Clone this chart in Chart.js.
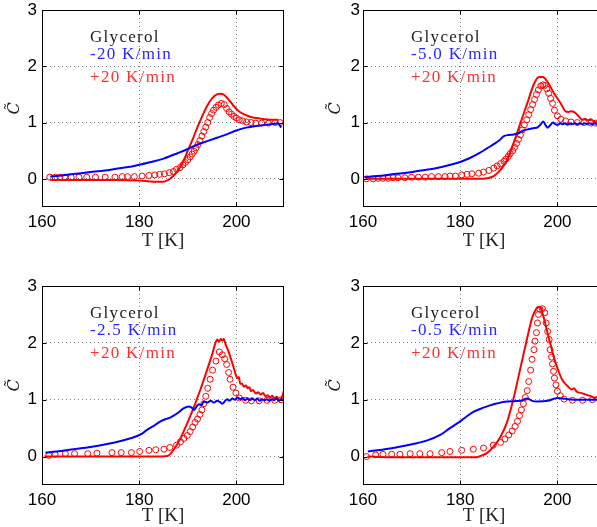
<!DOCTYPE html>
<html>
<head>
<meta charset="utf-8">
<script src="https://cdn.jsdelivr.net/npm/chart.js@4/dist/chart.umd.min.js"></script>
<style>
  html,body{margin:0;padding:0;background:#fff;}
  #fig{position:relative;width:597px;height:527px;overflow:hidden;background:#fff;}
  #fig canvas{position:absolute;}
</style>
</head>
<body>
<div id="fig">
  <canvas id="p1" width="300" height="260" style="left:0;top:0"></canvas>
  <canvas id="p2" width="300" height="260" style="left:321px;top:0"></canvas>
  <canvas id="p3" width="300" height="262" style="left:0;top:276px"></canvas>
  <canvas id="p4" width="300" height="262" style="left:321px;top:276px"></canvas>
</div>
<script>
/* ====== DATA ====== */
const xTicks = [160, 180, 200];
const yTicks = [0, 1, 2, 3];
const sampleName = "Glycerol";
const coolLabels = ["-20 K/min", "-5.0 K/min", "-2.5 K/min", "-0.5 K/min"];
const heatLabel = "+20 K/min";

// panel 1: cooling -20 K/min
const coolT1 = [161.7, 164, 167, 170, 173, 176, 179, 182, 185, 188, 190, 192, 194, 196, 198, 200, 202, 204, 206, 208, 208.6, 209.2];
const coolC1 = [0.04, 0.06, 0.09, 0.12, 0.15, 0.19, 0.23, 0.29, 0.36, 0.46, 0.53, 0.61, 0.67, 0.73, 0.79, 0.86, 0.91, 0.94, 0.96, 0.98, 0.99, 0.91];
const heatT1 = [161.7, 165, 170, 175, 180, 183, 185, 186, 187, 188, 189, 190, 191, 192, 193, 194, 195, 196, 196.8, 197.5, 198.5, 199.5, 200.5, 201.5, 203, 205, 207, 208.6];
const heatC1 = [-0.02, -0.02, -0.02, -0.02, -0.03, -0.05, -0.05, -0.02, 0.05, 0.15, 0.3, 0.5, 0.7, 0.92, 1.12, 1.3, 1.43, 1.5, 1.51, 1.49, 1.4, 1.29, 1.2, 1.15, 1.1, 1.07, 1.05, 1.05];
const circT1 = [161.6, 162.7, 163.7, 164.7, 166, 167.6, 169.2, 171, 173, 175, 176.5, 177.6, 179, 180.6, 182, 183.2, 184.2, 185.2, 186.2, 187, 187.7, 188.4, 189, 189.5, 190, 190.5, 190.9, 191.3, 191.7, 192.1, 192.5, 192.9, 193.3, 193.7, 194.1, 194.5, 194.9, 195.3, 195.8, 196.3, 196.9, 197.5, 198, 198.5, 199, 199.5, 200, 200.6, 201.3, 202.1, 203, 204, 205.2, 206.6, 208, 209];
const circC1 = [0.03, 0.03, 0.03, 0.03, 0.03, 0.03, 0.03, 0.03, 0.03, 0.03, 0.04, 0.04, 0.04, 0.05, 0.06, 0.07, 0.08, 0.09, 0.11, 0.13, 0.17, 0.2, 0.25, 0.29, 0.34, 0.39, 0.44, 0.49, 0.55, 0.61, 0.68, 0.76, 0.84, 0.92, 1.0, 1.09, 1.16, 1.22, 1.27, 1.31, 1.34, 1.32, 1.25, 1.19, 1.15, 1.11, 1.08, 1.05, 1.03, 1.01, 1.0, 0.99, 0.99, 0.99, 1.0, 1.0];

// panel 2: cooling -5.0 K/min
const coolT2 = [160.3, 163, 166, 169, 172, 175, 178, 180, 182, 184, 185.5, 187, 188, 189, 190, 191, 192, 193, 194, 195, 196, 196.6, 197.1, 197.6, 198, 198.6, 199.1, 199.6, 200.1, 200.6, 201.1, 201.6, 202.1, 202.6, 203.1, 203.6, 204.1, 204.6, 205.1, 205.6, 206.1, 206.6, 207.1, 207.6, 208.1, 208.6, 209.1, 209.6, 210];
const coolC2 = [0.03, 0.05, 0.08, 0.11, 0.15, 0.19, 0.25, 0.3, 0.37, 0.46, 0.54, 0.62, 0.68, 0.76, 0.78, 0.79, 0.81, 0.86, 0.88, 0.9, 0.92, 0.97, 1.02, 0.95, 0.91, 0.96, 1.0, 0.97, 0.96, 0.99, 0.97, 0.99, 0.96, 0.99, 0.97, 0.99, 0.97, 0.99, 0.97, 0.99, 0.97, 0.99, 0.97, 0.99, 0.97, 0.99, 0.97, 0.99, 0.98];
const heatT2 = [160.5, 165, 170, 175, 180, 184, 185.5, 186.9, 188.3, 189.7, 191, 192.4, 193.8, 195.2, 196.2, 197, 198, 199.3, 200.7, 201.7, 202.3, 202.8, 203.4, 204.1, 205.2, 205.7, 206.2, 206.8, 207.6, 208.3, 209, 209.8];
const heatC2 = [0.0, 0.0, 0.0, 0.0, 0.0, 0.0, 0.01, 0.05, 0.16, 0.34, 0.64, 0.99, 1.34, 1.69, 1.81, 1.81, 1.72, 1.52, 1.34, 1.2, 1.19, 1.2, 1.19, 1.14, 1.05, 1.07, 1.04, 1.06, 1.02, 1.0, 1.02, 1.0];
const circT2 = [160.7, 162.1, 163.1, 164.1, 165.2, 166.2, 167.2, 168.6, 170, 171.4, 172.8, 174.1, 175.5, 176.9, 177.9, 179, 180.3, 181.4, 182.4, 183.8, 184.8, 185.9, 186.9, 187.6, 188.3, 189, 189.4, 189.9, 190.3, 190.8, 191.2, 191.6, 192, 192.4, 192.8, 193.2, 193.7, 194.1, 194.5, 194.9, 195.3, 195.7, 196.1, 196.6, 197, 197.4, 197.8, 198.2, 198.6, 199, 199.4, 200, 200.7, 201.7, 202.8, 204.1, 205.5, 206.9, 207.9];
const circC2 = [0.0, 0.0, 0.01, 0.01, 0.01, 0.02, 0.02, 0.02, 0.03, 0.03, 0.03, 0.04, 0.04, 0.04, 0.05, 0.05, 0.07, 0.08, 0.09, 0.1, 0.12, 0.15, 0.19, 0.23, 0.27, 0.31, 0.35, 0.4, 0.45, 0.5, 0.56, 0.63, 0.7, 0.78, 0.87, 0.96, 1.05, 1.14, 1.23, 1.32, 1.41, 1.5, 1.58, 1.65, 1.67, 1.66, 1.6, 1.52, 1.43, 1.34, 1.22, 1.12, 1.06, 1.03, 1.01, 1.0, 1.0, 0.99, 0.99];

// panel 3: cooling -2.5 K/min
const coolT3 = [160.7, 163, 166.5, 170, 173.4, 176, 178.9, 180.5, 181.6, 183, 184.4, 185.5, 186.3, 187.1, 188, 189.2, 190.2, 190.8, 191.3, 191.8, 192.3, 192.8, 193.3, 194, 194.7, 195.4, 196, 196.6, 197.1, 197.6, 198.1, 198.6, 199.2, 199.7, 200.2, 200.8, 201.3, 201.8, 202.3, 202.8, 203.3, 203.8, 204.3, 204.8, 205.3, 205.8, 206.3, 206.8, 207.3, 207.8, 208.3, 208.8, 209.3, 209.8];
const coolC3 = [0.07, 0.09, 0.13, 0.17, 0.22, 0.27, 0.34, 0.4, 0.47, 0.54, 0.62, 0.66, 0.68, 0.72, 0.77, 0.85, 0.88, 0.86, 0.82, 0.88, 0.92, 0.9, 0.97, 0.95, 0.98, 0.95, 0.98, 0.96, 0.93, 0.97, 1.01, 0.98, 1.02, 1.0, 1.04, 1.01, 1.03, 0.99, 1.02, 0.99, 1.02, 0.99, 1.02, 0.98, 1.01, 0.99, 1.01, 0.98, 1.01, 0.99, 1.02, 0.98, 1.01, 0.99];
const heatT3 = [160.5, 165, 170, 175, 180, 183, 185.8, 187.1, 188.5, 189.9, 191.3, 192.6, 194, 195.1, 195.7, 196.1, 196.4, 196.8, 197.1, 197.4, 197.8, 198.5, 199.5, 200.2, 200.5, 200.8, 201.2, 201.5, 202, 202.3, 202.7, 203, 203.4, 204, 204.5, 205, 205.5, 206, 206.4, 207, 207.4, 207.8, 208.3, 208.8, 209.3, 209.8];
const heatC3 = [0.0, 0.0, 0.0, 0.0, 0.0, 0.0, 0.01, 0.12, 0.32, 0.59, 0.88, 1.18, 1.53, 1.82, 2.0, 2.06, 2.02, 2.07, 2.04, 2.07, 1.97, 1.82, 1.55, 1.38, 1.4, 1.28, 1.28, 1.23, 1.25, 1.2, 1.22, 1.15, 1.17, 1.11, 1.13, 1.09, 1.12, 1.06, 1.08, 1.04, 1.07, 1.02, 1.05, 1.0, 1.03, 1.16];
const circT3 = [161.4, 162.7, 164.8, 166.7, 169.4, 171.3, 174.4, 176.3, 178.4, 180.1, 182, 183.4, 185.1, 186.3, 187.7, 188.5, 189.2, 189.9, 190.5, 191, 191.5, 192, 192.5, 192.9, 193.3, 193.7, 194.1, 194.6, 195.1, 195.8, 196.5, 197.1, 197.6, 198, 198.4, 198.7, 199.3, 199.9, 200.6, 201.9, 203.1, 204.7, 206.3, 207.9, 209.2];
const circC3 = [0.02, 0.04, 0.05, 0.05, 0.05, 0.06, 0.07, 0.07, 0.07, 0.09, 0.11, 0.12, 0.13, 0.16, 0.2, 0.26, 0.32, 0.37, 0.44, 0.52, 0.6, 0.66, 0.74, 0.82, 0.93, 1.06, 1.2, 1.36, 1.52, 1.68, 1.84, 1.79, 1.72, 1.62, 1.48, 1.36, 1.22, 1.12, 1.03, 0.99, 0.98, 0.98, 0.99, 0.99, 1.0];

// panel 4: cooling -0.5 K/min
const coolT4 = [161, 163, 166.2, 168, 170.3, 173.1, 175.9, 177.9, 180, 182.8, 184.8, 186.9, 189.7, 192.4, 193.8, 194.8, 195.9, 198, 200, 202.1, 204.1, 207.6, 209.5];
const coolC4 = [0.09, 0.11, 0.15, 0.18, 0.22, 0.28, 0.38, 0.5, 0.62, 0.79, 0.86, 0.92, 0.97, 0.98, 1.02, 0.98, 0.97, 0.98, 1.03, 1.01, 1.0, 1.0, 1.0];
const heatT4 = [161, 165, 170, 175, 180, 183.4, 184.5, 185.5, 186.9, 188.3, 189.7, 191, 192.4, 193.8, 194.8, 195.5, 196, 196.5, 197.2, 197.9, 198.6, 199.3, 200, 201, 202.1, 203, 203.4, 204, 204.8, 205.5, 206.2, 207, 207.6, 208.3, 209, 209.6];
const heatC4 = [0.0, -0.01, -0.01, -0.01, -0.01, -0.01, 0.02, 0.06, 0.18, 0.35, 0.62, 1.03, 1.56, 2.09, 2.44, 2.58, 2.63, 2.62, 2.44, 2.2, 1.97, 1.74, 1.56, 1.35, 1.24, 1.18, 1.2, 1.14, 1.12, 1.1, 1.08, 1.06, 1.03, 1.05, 0.98, 1.08];
const circT4 = [160.7, 162.6, 164.1, 165.9, 167.6, 169.7, 171.7, 173.8, 176.2, 177.9, 180.3, 182.7, 184.8, 186.8, 188.3, 189.2, 190, 190.7, 191.3, 191.8, 192.2, 192.6, 193, 193.4, 193.8, 194.1, 194.5, 194.8, 195.2, 195.4, 195.7, 195.9, 196.1, 196.4, 196.9, 197.4, 197.7, 198, 198.3, 198.5, 198.8, 199, 199.2, 199.4, 199.7, 200, 200.6, 201.4, 203.1, 205.2, 207.2, 209.2];
const circC4 = [0.0, 0.03, 0.04, 0.04, 0.04, 0.05, 0.05, 0.05, 0.07, 0.09, 0.11, 0.13, 0.15, 0.2, 0.25, 0.31, 0.38, 0.45, 0.53, 0.62, 0.72, 0.82, 0.93, 1.04, 1.16, 1.32, 1.52, 1.71, 1.88, 2.03, 2.18, 2.35, 2.5, 2.59, 2.6, 2.53, 2.35, 2.2, 2.06, 1.88, 1.75, 1.63, 1.5, 1.38, 1.26, 1.15, 1.07, 1.01, 0.99, 0.99, 1.0, 1.0];

/* ====== HELPERS ====== */
const pts = (xs, ys) => xs.map((x, i) => ({x, y: ys[i]}));
const BLUE = "#0000ff", RED = "#ff0000";

// box, inward ticks and the little text block in each panel
const framePlugin = {
  id: "frame",
  afterDraw(chart, args, opts){
    const {ctx, chartArea: a, scales: {x, y}} = chart;
    const L = Math.round(a.left) + 0.5, R = Math.round(a.right) - 0.5;
    const T = Math.round(a.top) + 0.5, B = Math.round(a.bottom) - 0.5;
    ctx.save();
    ctx.strokeStyle = "#000"; ctx.lineWidth = 1;
    ctx.strokeRect(L, T, R - L, B - T);
    ctx.beginPath();
    xTicks.forEach(v => {
      const px = Math.round(x.getPixelForValue(v)) + 0.5;
      ctx.moveTo(px, B); ctx.lineTo(px, B - 4);
      ctx.moveTo(px, T); ctx.lineTo(px, T + 4);
    });
    yTicks.forEach(v => {
      const py = Math.round(y.getPixelForValue(v)) + 0.5;
      ctx.moveTo(L, py); ctx.lineTo(L + 4, py);
      ctx.moveTo(R, py); ctx.lineTo(R - 4, py);
    });
    ctx.stroke();
    // notes (serif, loosely spaced like the TeX original)
    ctx.font = '17px "Liberation Serif"';
    if ("letterSpacing" in ctx) ctx.letterSpacing = "1.3px";
    ctx.textBaseline = "alphabetic"; ctx.textAlign = "left";
    const tx = a.left + 48;
    ctx.fillStyle = "#222";           ctx.fillText(sampleName, tx, a.top + 32);
    ctx.fillStyle = "rgb(40,40,255)"; ctx.fillText(opts.cool, tx, a.top + 49);
    ctx.fillStyle = "rgb(255,50,50)"; ctx.fillText(heatLabel, tx, a.top + 71.5);
    ctx.restore();
  }
};

function makePanel(id, cool, heat, circ, note, cfg){
  return new Chart(document.getElementById(id), {
    type: "line",
    data: {
      datasets: [
        { data: cool, borderColor: BLUE, borderWidth: 2, pointRadius: 0, cubicInterpolationMode: "monotone" },
        { data: circ, showLine: false, pointStyle: "circle", pointRadius: 3, borderWidth: 1,
          pointBorderColor: RED, pointBackgroundColor: "rgba(0,0,0,0)" },
        { data: heat, borderColor: RED, borderWidth: 2, pointRadius: 0, cubicInterpolationMode: "monotone" }
      ]
    },
    options: {
      responsive: false, animation: false, events: [], devicePixelRatio: 1,
      layout: { padding: { left: 0, right: 16, top: 10, bottom: 0 } },
      plugins: { legend: { display: false }, tooltip: { enabled: false }, frame: { cool: note } },
      scales: {
        x: {
          type: "linear", min: 160, max: 209.8,
          afterBuildTicks: s => { s.ticks = xTicks.map(v => ({value: v})); },
          afterFit: s => { s.height = 53; s.paddingLeft = 0; s.paddingRight = 0; },
          grid: { color: "rgba(0,0,0,0.5)", drawTicks: false },
          border: { display: false, dash: [1, 3] },
          ticks: { font: { family: "Liberation Sans", size: 17 }, color: "#000", padding: 5, maxRotation: 0 },
          title: { display: true, text: "T [K]", color: "#222",
                   font: { family: "Liberation Serif", size: 19 }, padding: { top: 0, bottom: cfg.titlePad } }
        },
        y: {
          min: -0.5, max: 3,
          afterBuildTicks: s => { s.ticks = yTicks.map(v => ({value: v})); },
          afterFit: s => { s.width = 42; s.paddingTop = 0; s.paddingBottom = 0; },
          grid: { color: "rgba(0,0,0,0.5)", drawTicks: false },
          border: { display: false, dash: [1, 3] },
          ticks: { font: { family: "Liberation Sans", size: 17 }, color: "#000", padding: cfg.yPad },
          title: { display: true, text: "C\u0303", color: "#222",
                   font: { family: "DejaVu Serif", size: 16, style: "italic" }, padding: { top: 5, bottom: 0 } }
        }
      }
    },
    plugins: [framePlugin]
  });
}

makePanel("p1", pts(coolT1, coolC1), pts(heatT1, heatC1), pts(circT1, circC1), coolLabels[0], {titlePad: 8, yPad: 5});
makePanel("p2", pts(coolT2, coolC2), pts(heatT2, heatC2), pts(circT2, circC2), coolLabels[1], {titlePad: 8, yPad: 3});
makePanel("p3", pts(coolT3, coolC3), pts(heatT3, heatC3), pts(circT3, circC3), coolLabels[2], {titlePad: 11, yPad: 5});
makePanel("p4", pts(coolT4, coolC4), pts(heatT4, heatC4), pts(circT4, circC4), coolLabels[3], {titlePad: 11, yPad: 3});
</script>
</body>
</html>
